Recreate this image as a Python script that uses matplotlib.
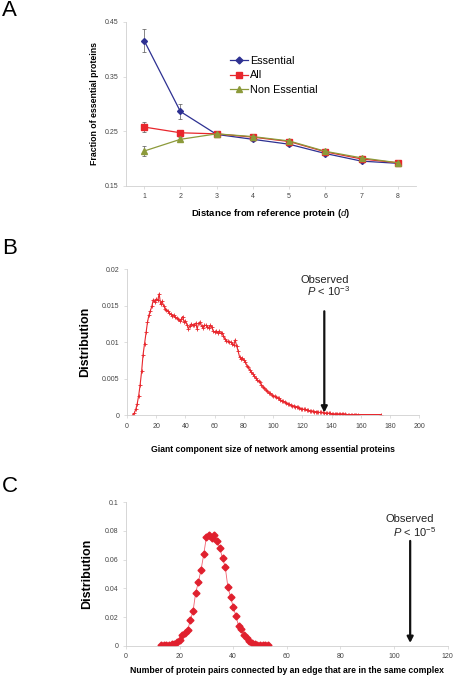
import matplotlib
matplotlib.use('Agg')
import matplotlib.pyplot as plt
from matplotlib.lines import Line2D

plt.rcParams['font.family'] = ['Liberation Sans', 'DejaVu Sans']
plt.rcParams['mathtext.fontset'] = 'custom'
plt.rcParams['mathtext.rm'] = 'Liberation Sans'
plt.rcParams['mathtext.it'] = 'Liberation Sans:italic'

# ---- panel A data
distance = [1, 2, 3, 4, 5, 6, 7, 8]
essential = [0.416, 0.286, 0.244, 0.235, 0.226, 0.209, 0.195, 0.191]
essential_err = [0.021, 0.013, 0.004, 0.003, 0.003, 0.002, 0.002, 0.002]
all_prot = [0.2575, 0.247, 0.245, 0.239, 0.231, 0.212, 0.199, 0.192]
all_err = [0.0095, 0.004, 0.003, 0.002, 0.002, 0.002, 0.002, 0.002]
non_essential = [0.2135, 0.235, 0.245, 0.240, 0.232, 0.213, 0.201, 0.192]
non_essential_err = [0.0095, 0.004, 0.005, 0.002, 0.002, 0.002, 0.002, 0.002]
series_names = ['Essential', 'All', 'Non Essential']

# ---- panel B data (giant component size distribution)
giant_size = list(range(4, 159)) + [174]
giant_dist = [
    0.0001, 0.0003, 0.0008, 0.0016, 0.0027, 0.0042, 0.0060, 0.0083, 0.0098, 0.0114,
    0.0127, 0.0137, 0.0143, 0.0149, 0.0158, 0.0155, 0.0159, 0.0157, 0.0166, 0.0152,
    0.0156, 0.0150, 0.0146, 0.0144, 0.0142, 0.0140, 0.0138, 0.0136, 0.0137, 0.0134,
    0.0133, 0.0131, 0.0129, 0.0131, 0.0135, 0.0128, 0.0129, 0.0124, 0.0118, 0.0122,
    0.0125, 0.0123, 0.0124, 0.0126, 0.0118, 0.0126, 0.0127, 0.0122, 0.0120, 0.0123,
    0.0123, 0.0121, 0.0120, 0.0123, 0.0121, 0.0115, 0.0114, 0.0115, 0.0113, 0.0115,
    0.0112, 0.0113, 0.0109, 0.0104, 0.0102, 0.0101, 0.0100, 0.0100, 0.0098, 0.0096,
    0.0103, 0.0095, 0.0088, 0.0080, 0.0077, 0.0078, 0.0075, 0.0073, 0.0068, 0.0066,
    0.0062, 0.0059, 0.0057, 0.0054, 0.0051, 0.0048, 0.0047, 0.0045, 0.0042, 0.0039,
    0.0037, 0.0035, 0.0033, 0.0031, 0.0030, 0.0028, 0.0027, 0.0026, 0.0025, 0.0024,
    0.0023, 0.0021, 0.0020, 0.0019, 0.0018, 0.0017, 0.0016, 0.0015, 0.0014, 0.0013,
    0.0013, 0.0012, 0.0012, 0.0011, 0.0010, 0.0009, 0.0009, 0.0008, 0.0008, 0.0007,
    0.0007, 0.0006, 0.0006, 0.0006, 0.0005, 0.0005, 0.0005, 0.0004, 0.0004, 0.0004,
    0.0004, 0.0003, 0.0003, 0.0003, 0.0003, 0.0003, 0.0002, 0.0002, 0.0002, 0.0002,
    0.0002, 0.0002, 0.0002, 0.0002, 0.0002, 0.0002, 0.0001, 0.0001, 0.0001, 0.0001,
    0.0001, 0.0001, 0.0001, 0.0001, 0.0001,
    0.0001]
giant_observed = 135

# ---- panel C data (pairs in same complex)
pairs = list(range(13, 54))
pairs_dist = [
    0.0003, 0.0004, 0.0005, 0.0007, 0.0009, 0.0014, 0.0025, 0.0040, 0.0072, 0.0090,
    0.0107, 0.0180, 0.0240, 0.0370, 0.0444, 0.0530, 0.0637, 0.0760, 0.0770, 0.0750,
    0.0770, 0.0730, 0.0680, 0.0610, 0.0550, 0.0410, 0.0340, 0.0270, 0.0207, 0.0137,
    0.0116, 0.0074, 0.0051, 0.0035, 0.0019, 0.0012, 0.0007, 0.0005, 0.0004, 0.0004,
    0.0004]
pairs_observed = 106

W, H = 454, 676
fig = plt.figure(figsize=(W / 100.0, H / 100.0), dpi=100)

grey = '#d0d0d0'
tick_col = '#444444'


def style_axes(ax):
    for s in ['top', 'right']:
        ax.spines[s].set_visible(False)
    for s in ['left', 'bottom']:
        ax.spines[s].set_color(grey)
        ax.spines[s].set_linewidth(0.6)
    ax.tick_params(colors=grey, labelcolor=tick_col, labelsize=5, length=2, width=0.5)


def ax_at(left, top, right, bottom):
    return fig.add_axes([left / W, 1 - bottom / H, (right - left) / W, (bottom - top) / H])


# ---------------- A
ax = ax_at(126, 22, 416, 185.7)
style_axes(ax)
styles = [('#2e3192', 'D', 3), ('#e8262c', 's', 4), ('#8c9a3a', '^', 4)]
handles = []
for vals, errs, (col, mk, ms) in zip([essential, all_prot, non_essential],
                                     [essential_err, all_err, non_essential_err], styles):
    ax.errorbar(distance, vals, yerr=errs, color=col, marker=mk, markersize=ms,
                lw=0.9, ecolor='#555555', elinewidth=0.5, capsize=1.5, capthick=0.5)
    handles.append(Line2D([], [], color=col, marker=mk, markersize=ms + 0.5, lw=0.9))
ax.set_xlim(0.5, 8.5)
ax.set_ylim(0.15, 0.45)
ax.set_xticks(distance)
ax.set_yticks([0.15, 0.25, 0.35, 0.45])
ax.set_yticklabels(['0.15', '0.25', '0.35', '0.45'])
ax.set_ylabel('Fraction of essential proteins', fontsize=6.3, fontweight='bold', labelpad=4)
ax.set_xlabel('Distance from reference protein ($\\mathbf{\\it{d}}$)', fontsize=6.8, fontweight='bold', labelpad=5)
ax.legend(handles, series_names, loc='upper left', bbox_to_anchor=(0.345, 0.82), frameon=False,
          fontsize=7.8, handlelength=1.6, handletextpad=0.25, labelspacing=0.42, borderaxespad=0)
fig.text(2 / W, 1 - 10 / H, 'A', fontsize=16, va='center', ha='left')

# ---------------- B
ax = ax_at(127, 269, 419.3, 415.3)
style_axes(ax)
ax.plot(giant_size, giant_dist, color='#e8262c', lw=0.8, marker='+', markersize=2.2, mew=0.6)
ax.set_xlim(0, 200)
ax.set_ylim(0, 0.02)
ax.set_xticks([0, 20, 40, 60, 80, 100, 120, 140, 160, 180, 200])
ax.set_yticks([0, 0.005, 0.01, 0.015, 0.02])
ax.set_yticklabels(['0', '0.005', '0.01', '0.015', '0.02'])
ax.set_ylabel('Distribution', fontsize=9, fontweight='bold', labelpad=8)
ax.set_xlabel('Giant component size of network among essential proteins', fontsize=6.2,
              fontweight='bold', labelpad=11)
ax.annotate('', xy=(giant_observed, 0), xytext=(giant_observed, 0.0146),
            arrowprops=dict(arrowstyle='-|>,head_width=0.18,head_length=0.35', color='#111111', lw=1.6))
ax.text(giant_observed, 0.0185, 'Observed', fontsize=8, ha='center', va='center', color='#222222')
ax.text(giant_observed + 3, 0.0170, '$\\it{P}$ < 10$^{-3}$', fontsize=8, ha='center', va='center',
        color='#222222')
fig.text(2 / W, 1 - 249 / H, 'B', fontsize=16, va='center', ha='left')

# ---------------- C
ax = ax_at(126, 502.3, 447.7, 645.7)
style_axes(ax)
ax.plot(pairs, pairs_dist, color='#f06070', lw=0.6)
ax.plot(pairs, pairs_dist, color='#e0202e', lw=0, marker='D', markersize=3.5)
ax.set_xlim(0, 120)
ax.set_ylim(0, 0.1)
ax.set_xticks([0, 20, 40, 60, 80, 100, 120])
ax.set_yticks([0, 0.02, 0.04, 0.06, 0.08, 0.1])
ax.set_yticklabels(['0', '0.02', '0.04', '0.06', '0.08', '0.1'])
ax.set_ylabel('Distribution', fontsize=9, fontweight='bold', labelpad=8)
ax.set_xlabel('Number of protein pairs connected by an edge that are in the same complex',
              fontsize=6.2, fontweight='bold', labelpad=4)
ax.annotate('', xy=(pairs_observed, 0), xytext=(pairs_observed, 0.075),
            arrowprops=dict(arrowstyle='-|>,head_width=0.18,head_length=0.35', color='#111111', lw=1.6))
ax.text(pairs_observed, 0.0885, 'Observed', fontsize=8, ha='center', va='center', color='#222222')
ax.text(pairs_observed + 1.5, 0.0795, '$\\it{P}$ < 10$^{-5}$', fontsize=8, ha='center', va='center',
        color='#222222')
fig.text(2 / W, 1 - 487 / H, 'C', fontsize=16, va='center', ha='left')

fig.savefig('out.png', dpi=100)
